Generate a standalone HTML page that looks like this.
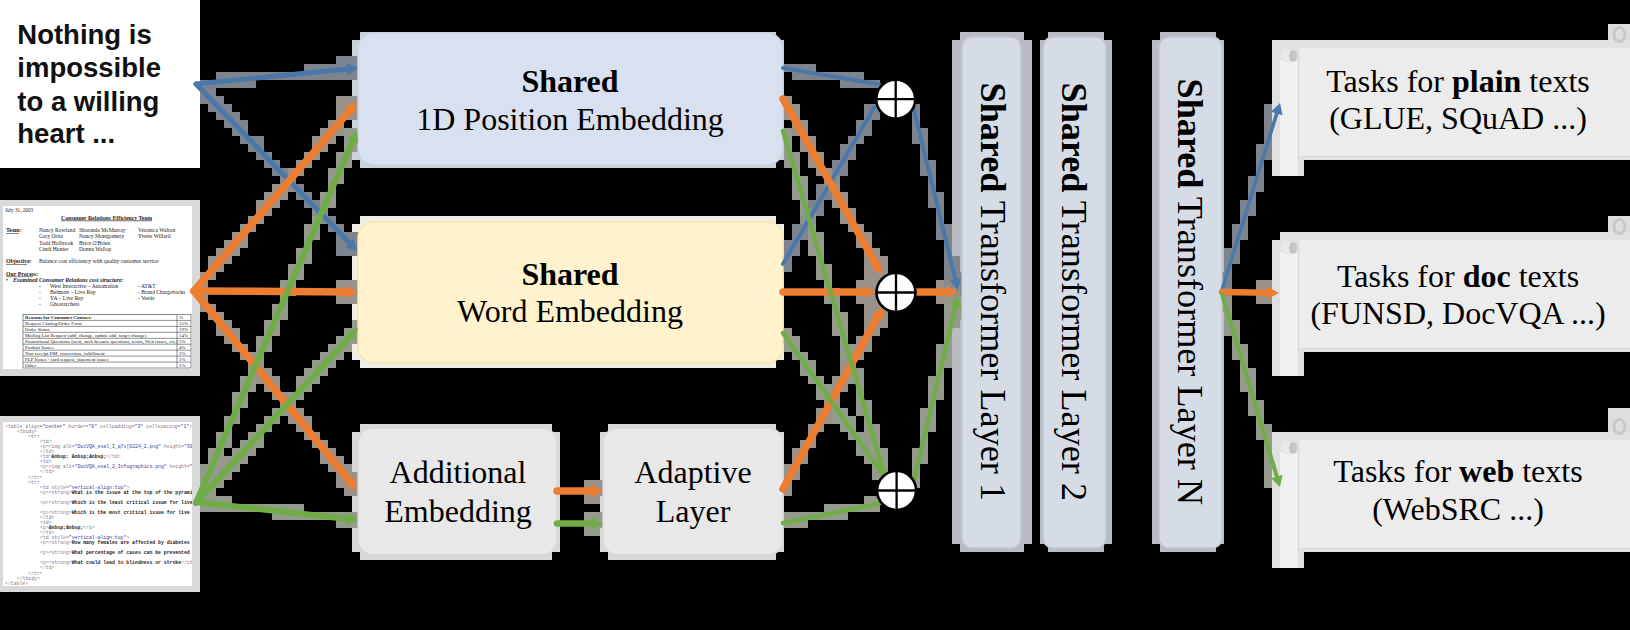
<!DOCTYPE html>
<html><head><meta charset="utf-8"><style>html,body{margin:0;padding:0;background:#000;width:1630px;height:630px;overflow:hidden}svg{display:block}</style></head>
<body><svg width="1630" height="630" viewBox="0 0 1630 630"><rect x="0" y="0" width="200" height="168" fill="#fff"/>
<g font-family="Liberation Sans, sans-serif" font-weight="bold" font-size="27.5" fill="#111">
<text x="17.3" y="44">Nothing is</text><text x="17.3" y="77">impossible</text><text x="17.3" y="111">to a willing</text><text x="17.3" y="143">heart ...</text></g><rect x="0" y="200" width="200" height="176" fill="#d9d9d9"/><rect x="3" y="206" width="189" height="163" fill="#fff"/><g font-family="Liberation Serif, serif" fill="#222"><text x="5" y="212" font-size="5.2" >July 31, 2003</text><text x="61" y="219.5" font-size="6.0" font-weight="bold" textLength="91" lengthAdjust="spacingAndGlyphs">Consumer Relations Efficiency Team</text><rect x="61" y="220.5" width="91" height="0.7" fill="#333"/><text x="6" y="232" font-size="5.8" font-weight="bold">Team:</text><rect x="6" y="233" width="13" height="0.6" fill="#333"/><text x="39" y="232.0" font-size="5.6" >Nancy Rowland</text><text x="79" y="232.0" font-size="5.6" >Sharanda McMurray</text><text x="39" y="238.3" font-size="5.6" >Gary Ortiz</text><text x="79" y="238.3" font-size="5.6" >Nancy Montgomery</text><text x="39" y="244.6" font-size="5.6" >Todd Holbrook</text><text x="79" y="244.6" font-size="5.6" >Brice O&#x27;Brien</text><text x="39" y="250.9" font-size="5.6" >Cindi Hunter</text><text x="79" y="250.9" font-size="5.6" >Donna Wallop</text><text x="138" y="232" font-size="5.6" >Veronica Walton</text><text x="138" y="238.3" font-size="5.6" >Yvette Willard</text><text x="6" y="263" font-size="5.8" font-weight="bold">Objective:</text><rect x="6" y="264" width="21" height="0.6" fill="#333"/><text x="39" y="263" font-size="5.6" >Balance cost efficiency with quality customer service</text><text x="6" y="275.5" font-size="5.8" font-weight="bold">Our Process:</text><rect x="6" y="276.5" width="27" height="0.6" fill="#333"/><text x="6" y="281.5" font-size="5.6" >•</text><text x="13" y="281.5" font-size="5.8" font-weight="bold" font-style="italic">Examined Consumer Relations cost structure:</text><text x="39" y="287.5" font-size="5.6" >-</text><text x="50" y="287.5" font-size="5.6" >West Interactive – Automation</text><text x="138" y="287.5" font-size="5.6" >- AT&amp;T</text><text x="39" y="293.8" font-size="5.6" >-</text><text x="50" y="293.8" font-size="5.6" >Belmont – Live Rep</text><text x="138" y="293.8" font-size="5.6" >- Brand Chargebacks</text><text x="39" y="300.1" font-size="5.6" >-</text><text x="50" y="300.1" font-size="5.6" >YA – Live Rep</text><text x="138" y="300.1" font-size="5.6" >- Vestis</text><text x="39" y="306.4" font-size="5.6" >-</text><text x="50" y="306.4" font-size="5.6" >Ghostarchers</text></g><g stroke="#444" stroke-width="0.6" fill="none"><rect x="23" y="314.5" width="168" height="53.5"/><line x1="177" y1="314.5" x2="177" y2="368"/><line x1="23" y1="320.4" x2="191" y2="320.4"/><line x1="23" y1="326.4" x2="191" y2="326.4"/><line x1="23" y1="332.3" x2="191" y2="332.3"/><line x1="23" y1="338.3" x2="191" y2="338.3"/><line x1="23" y1="344.2" x2="191" y2="344.2"/><line x1="23" y1="350.2" x2="191" y2="350.2"/><line x1="23" y1="356.1" x2="191" y2="356.1"/><line x1="23" y1="362.1" x2="191" y2="362.1"/></g><g font-family="Liberation Serif, serif" fill="#222"><text x="25" y="319.1" font-size="4.9" font-weight="bold">Reasons for Consumer Contact:</text><text x="179" y="319.1" font-size="4.9" >%</text><text x="25" y="325.0444444444445" font-size="4.9" >Request Catalog/Order Form</text><text x="179" y="325.0444444444445" font-size="4.9" >55%</text><text x="25" y="330.98888888888894" font-size="4.9" >Order Status</text><text x="179" y="330.98888888888894" font-size="4.9" >19%</text><text x="25" y="336.93333333333334" font-size="4.9" >Mailing List Request (add, change, update add, target change)</text><text x="179" y="336.93333333333334" font-size="4.9" >14%</text><text x="25" y="342.8777777777778" font-size="4.9" >Promotional Questions (item, such because questions, terms, Web issues, etc.)</text><text x="179" y="342.8777777777778" font-size="4.9" >5%</text><text x="25" y="348.82222222222225" font-size="4.9" >Product Issues</text><text x="179" y="348.82222222222225" font-size="4.9" >4%</text><text x="25" y="354.7666666666667" font-size="4.9" >Non-receipt DM, conversion, fulfillment</text><text x="179" y="354.7666666666667" font-size="4.9" >1%</text><text x="25" y="360.7111111111111" font-size="4.9" >FLP Issues - card request, statement issues</text><text x="179" y="360.7111111111111" font-size="4.9" >1%</text><text x="25" y="366.65555555555557" font-size="4.9" >Other</text><text x="179" y="366.65555555555557" font-size="4.9" >1%</text></g><rect x="0" y="416" width="200" height="176" fill="#d9d9d9"/><rect x="3" y="422" width="189" height="164" fill="#fff"/><svg x="3" y="422" width="189" height="164" overflow="hidden"><g font-family="Liberation Mono, monospace" font-size="4.8"><text x="2" y="6.0" xml:space="preserve"><tspan fill="#8a7a8a">&lt;table align=</tspan><tspan fill="#3a3aa0">&quot;center&quot;</tspan><tspan fill="#8a7a8a"> border=</tspan><tspan fill="#3a3aa0">&quot;0&quot;</tspan><tspan fill="#8a7a8a"> cellpadding=</tspan><tspan fill="#3a3aa0">&quot;3&quot;</tspan><tspan fill="#8a7a8a"> cellspacing=</tspan><tspan fill="#3a3aa0">&quot;1&quot;</tspan><tspan fill="#8a7a8a">&gt;</tspan></text><text x="14" y="11.1" xml:space="preserve"><tspan fill="#8a7a8a">&lt;tbody&gt;</tspan></text><text x="25" y="16.1" xml:space="preserve"><tspan fill="#8a7a8a">&lt;tr&gt;</tspan></text><text x="37" y="21.1" xml:space="preserve"><tspan fill="#8a7a8a">&lt;td&gt;</tspan></text><text x="37" y="26.2" xml:space="preserve"><tspan fill="#8a7a8a">&lt;p&gt;</tspan><tspan fill="#8a7a8a">&lt;img alt=</tspan><tspan fill="#3a3aa0">&quot;DocVQA_eval_I_q7v[0224_2.png&quot;</tspan><tspan fill="#8a7a8a"> height=</tspan><tspan fill="#3a3aa0">&quot;300&quot;</tspan></text><text x="37" y="31.2" xml:space="preserve"><tspan fill="#8a7a8a">&lt;/td&gt;</tspan></text><text x="37" y="36.3" xml:space="preserve"><tspan fill="#8a7a8a">&lt;td&gt;</tspan><tspan fill="#222" font-weight="bold">&amp;nbsp; &amp;nbsp;&amp;nbsp;</tspan><tspan fill="#8a7a8a">&lt;/td&gt;</tspan></text><text x="37" y="41.4" xml:space="preserve"><tspan fill="#8a7a8a">&lt;td&gt;</tspan></text><text x="37" y="46.4" xml:space="preserve"><tspan fill="#8a7a8a">&lt;p&gt;</tspan><tspan fill="#8a7a8a">&lt;img alt=</tspan><tspan fill="#3a3aa0">&quot;DocVQA_eval_2_Infographics.png&quot;</tspan><tspan fill="#8a7a8a"> height=</tspan><tspan fill="#3a3aa0">&quot;300&quot;</tspan></text><text x="37" y="51.4" xml:space="preserve"><tspan fill="#8a7a8a">&lt;/td&gt;</tspan></text><text x="25" y="56.5" xml:space="preserve"><tspan fill="#8a7a8a">&lt;/tr&gt;</tspan></text><text x="25" y="61.6" xml:space="preserve"><tspan fill="#8a7a8a">&lt;tr&gt;</tspan></text><text x="37" y="66.6" xml:space="preserve"><tspan fill="#8a7a8a">&lt;td style=</tspan><tspan fill="#3a3aa0">&quot;vertical-align:top&quot;</tspan><tspan fill="#8a7a8a">&gt;</tspan></text><text x="37" y="71.6" xml:space="preserve"><tspan fill="#8a7a8a">&lt;p&gt;</tspan><tspan fill="#8a7a8a">&lt;strong&gt;</tspan><tspan fill="#222" font-weight="bold">What is the issue at the top of the pyramid</tspan></text><text x="37" y="81.8" xml:space="preserve"><tspan fill="#8a7a8a">&lt;p&gt;</tspan><tspan fill="#8a7a8a">&lt;strong&gt;</tspan><tspan fill="#222" font-weight="bold">Which is the least critical issue for live</tspan></text><text x="37" y="91.9" xml:space="preserve"><tspan fill="#8a7a8a">&lt;p&gt;</tspan><tspan fill="#8a7a8a">&lt;strong&gt;</tspan><tspan fill="#222" font-weight="bold">Which is the most critical issue for live</tspan></text><text x="37" y="96.9" xml:space="preserve"><tspan fill="#8a7a8a">&lt;/td&gt;</tspan></text><text x="37" y="102.0" xml:space="preserve"><tspan fill="#8a7a8a">&lt;td&gt;</tspan></text><text x="37" y="107.0" xml:space="preserve"><tspan fill="#8a7a8a">&lt;p&gt;</tspan><tspan fill="#222" font-weight="bold">&amp;nbsp;&amp;nbsp;</tspan><tspan fill="#8a7a8a">&lt;/p&gt;</tspan></text><text x="37" y="112.0" xml:space="preserve"><tspan fill="#8a7a8a">&lt;/td&gt;</tspan></text><text x="37" y="117.1" xml:space="preserve"><tspan fill="#8a7a8a">&lt;td style=</tspan><tspan fill="#3a3aa0">&quot;vertical-align:top&quot;</tspan><tspan fill="#8a7a8a">&gt;</tspan></text><text x="37" y="122.1" xml:space="preserve"><tspan fill="#8a7a8a">&lt;p&gt;</tspan><tspan fill="#8a7a8a">&lt;strong&gt;</tspan><tspan fill="#222" font-weight="bold">How many females are affected by diabetes</tspan></text><text x="37" y="132.2" xml:space="preserve"><tspan fill="#8a7a8a">&lt;p&gt;</tspan><tspan fill="#8a7a8a">&lt;strong&gt;</tspan><tspan fill="#222" font-weight="bold">What percentage of cases can be prevented</tspan></text><text x="37" y="142.4" xml:space="preserve"><tspan fill="#8a7a8a">&lt;p&gt;</tspan><tspan fill="#8a7a8a">&lt;strong&gt;</tspan><tspan fill="#222" font-weight="bold">What could lead to blindness or stroke</tspan><tspan fill="#8a7a8a">&lt;/strong&gt;</tspan></text><text x="37" y="147.4" xml:space="preserve"><tspan fill="#8a7a8a">&lt;/td&gt;</tspan></text><text x="25" y="152.5" xml:space="preserve"><tspan fill="#8a7a8a">&lt;/tr&gt;</tspan></text><text x="14" y="157.5" xml:space="preserve"><tspan fill="#8a7a8a">&lt;/tbody&gt;</tspan></text><text x="2" y="162.5" xml:space="preserve"><tspan fill="#8a7a8a">&lt;/table&gt;</tspan></text></g></svg><path fill="#cdd0d6" d="M352,40h432v120h-432zM360,32h416v8h-416zM360,160h416v8h-416z"/><path fill="#eeeee4" d="M352,224h432v136h-432zM360,216h416v8h-416zM360,360h416v8h-416z"/><path fill="#d8d8d8" d="M352,432h208v120h-208zM360,424h192v8h-192zM360,552h192v8h-192z"/><path fill="#d8d8d8" d="M600,432h184v120h-184zM608,424h168v8h-168zM608,552h168v8h-168z"/><path fill="#b9bcc1" d="M952,40h80v504h-80zM960,32h64v8h-64zM960,544h64v8h-64z"/><path fill="#b9bcc1" d="M1040,40h72v504h-72zM1048,32h56v8h-56zM1048,544h56v8h-56z"/><path fill="#b9bcc1" d="M1152,40h72v504h-72zM1160,32h56v8h-56zM1160,544h56v8h-56z"/><path fill="#7d848e" d="M200,80h56v8h-56zM840,80h40v8h-40zM216,72h144v8h-144zM792,72h72v8h-72zM304,64h56v8h-56zM776,64h40v8h-40zM336,56h24v8h-24zM336,232h24v24h-24zM200,88h16v8h-16zM200,96h24v8h-24zM1272,96h16v8h-16zM208,104h24v8h-24zM864,104h16v16h-16zM904,104h16v8h-16zM1264,104h24v16h-24zM216,112h24v8h-24zM912,112h8v16h-8zM224,120h24v8h-24zM856,120h16v16h-16zM1264,120h16v16h-16zM232,128h16v8h-16zM912,128h16v16h-16zM240,136h24v8h-24zM848,136h16v8h-16zM1264,136h8v8h-8zM248,144h16v8h-16zM840,144h16v16h-16zM920,144h8v16h-8zM1256,144h16v16h-16zM256,152h16v8h-16zM264,160h16v8h-16zM832,160h16v16h-16zM920,160h16v16h-16zM1256,160h8v16h-8zM272,168h16v8h-16zM296,184h8v8h-8zM816,184h8v8h-8zM816,208h8v8h-8zM928,176h8v16h-8zM1248,176h16v16h-16zM296,192h16v8h-16zM816,192h16v8h-16zM928,192h16v16h-16zM1248,192h8v8h-8zM304,200h16v8h-16zM808,200h16v8h-16zM1240,200h16v16h-16zM328,216h8v8h-8zM936,208h8v16h-8zM1240,216h8v8h-8zM328,224h16v8h-16zM792,224h16v16h-16zM936,224h16v16h-16zM1232,224h16v16h-16zM784,240h16v16h-16zM944,240h8v16h-8zM1232,240h8v8h-8zM1224,248h16v16h-16zM776,256h16v16h-16zM944,256h16v16h-16zM1224,264h8v8h-8zM944,272h24v8h-24zM1216,272h16v16h-16zM960,280h8v16h-8z"/><path fill="#8a8b8c" d="M280,176h16v8h-16zM824,176h16v8h-16zM288,184h8v8h-8zM824,184h8v8h-8zM944,280h16v8h-16z"/><path fill="#888f8d" d="M312,208h16v8h-16zM808,208h8v8h-8zM320,216h8v8h-8zM800,216h16v8h-16zM1216,288h16v8h-16z"/><path fill="#98928a" d="M200,280h8v24h-8zM336,96h24v24h-24zM336,280h24v24h-24zM336,472h24v16h-24zM856,280h24v24h-24zM936,280h8v8h-8zM936,296h8v8h-8zM1256,280h24v24h-24zM200,272h16v8h-16zM200,304h16v8h-16zM864,256h24v24h-24zM864,304h24v24h-24zM208,264h16v8h-16zM208,312h16v8h-16zM208,256h24v8h-24zM216,248h24v8h-24zM216,328h24v8h-24zM864,248h16v8h-16zM864,328h16v8h-16zM224,240h24v8h-24zM856,232h16v16h-16zM856,336h16v16h-16zM232,232h16v8h-16zM232,344h16v8h-16zM240,224h16v8h-16zM240,352h16v8h-16zM848,224h16v8h-16zM248,216h16v8h-16zM840,208h16v16h-16zM256,208h16v8h-16zM256,368h16v8h-16zM256,200h24v8h-24zM256,376h24v8h-24zM832,192h16v16h-16zM832,376h16v16h-16zM264,192h24v8h-24zM272,184h16v8h-16zM272,392h16v8h-16zM832,184h8v8h-8zM832,392h8v8h-8zM288,168h16v8h-16zM288,408h16v8h-16zM816,168h16v8h-16zM816,408h16v16h-16zM296,160h16v8h-16zM296,424h16v8h-16zM808,152h16v16h-16zM808,424h16v8h-16zM304,152h16v8h-16zM304,432h16v8h-16zM312,144h16v8h-16zM312,440h16v8h-16zM800,136h16v16h-16zM800,440h16v8h-16zM312,136h24v8h-24zM320,128h24v8h-24zM320,456h24v8h-24zM792,120h16v16h-16zM792,448h16v16h-16zM328,120h16v8h-16zM784,104h16v16h-16zM784,464h16v16h-16zM776,96h16v8h-16zM776,480h16v16h-16zM936,288h16v8h-16zM216,320h16v8h-16zM224,336h16v8h-16zM856,352h8v8h-8zM840,360h8v16h-8zM264,384h16v8h-16zM288,416h24v8h-24zM808,432h8v8h-8zM320,448h16v8h-16zM328,464h24v8h-24zM584,480h24v16h-24zM344,488h16v8h-16zM584,496h16v8h-16z"/><path fill="#96968b" d="M248,360h16v8h-16zM848,352h8v24h-8zM248,368h8v8h-8zM280,400h16v8h-16zM824,400h16v8h-16zM824,392h8v8h-8zM944,296h16v8h-16z"/><path fill="#949a8c" d="M200,488h16v8h-16zM200,472h32v8h-32zM200,496h32v8h-32zM864,424h16v8h-16zM864,496h16v8h-16zM200,480h24v8h-24zM912,464h8v24h-8zM1264,464h24v24h-24zM872,464h16v16h-16zM200,464h40v8h-40zM208,456h40v8h-40zM864,456h24v8h-24zM912,448h16v16h-16zM1264,448h16v16h-16zM208,448h16v8h-16zM232,448h24v8h-24zM856,448h32v8h-32zM216,432h16v16h-16zM240,440h24v8h-24zM856,440h24v8h-24zM920,432h8v16h-8zM1264,440h8v8h-8zM248,432h16v8h-16zM848,432h32v8h-32zM1256,424h16v16h-16zM224,424h8v8h-8zM256,336h16v16h-16zM256,424h16v8h-16zM840,344h16v8h-16zM840,424h16v8h-16zM920,408h16v24h-16zM224,416h16v8h-16zM264,320h16v16h-16zM264,416h16v8h-16zM832,416h24v8h-24zM864,416h8v8h-8zM1256,416h8v8h-8zM232,408h8v8h-8zM272,304h16v16h-16zM272,408h16v8h-16zM832,312h16v24h-16zM832,408h16v8h-16zM856,400h16v16h-16zM1248,400h16v16h-16zM232,392h16v16h-16zM928,400h8v8h-8zM288,264h16v16h-16zM288,392h16v8h-16zM816,256h8v8h-8zM816,392h8v8h-8zM856,368h8v8h-8zM856,384h8v16h-8zM928,376h16v24h-16zM1248,392h8v8h-8zM240,376h16v16h-16zM296,248h16v16h-16zM296,384h16v8h-16zM816,264h16v16h-16zM816,384h16v8h-16zM1240,368h16v24h-16zM296,376h24v8h-24zM808,232h16v24h-16zM808,376h16v8h-16zM848,376h16v8h-16zM256,352h8v8h-8zM320,352h24v8h-24zM792,176h16v24h-16zM792,352h16v8h-16zM840,336h8v8h-8zM840,352h8v8h-8zM936,344h16v24h-16zM1232,344h16v16h-16zM328,344h24v8h-24zM784,152h16v16h-16zM784,344h16v8h-16zM336,336h24v8h-24zM336,520h24v8h-24zM776,336h24v8h-24zM944,328h8v16h-8zM1232,336h8v8h-8zM344,128h16v24h-16zM344,328h16v8h-16zM776,128h16v16h-16zM776,328h16v8h-16zM1224,320h16v16h-16zM352,320h8v8h-8zM944,320h16v8h-16zM944,304h24v16h-24zM1224,312h8v8h-8zM832,304h8v8h-8zM1216,296h16v16h-16zM280,296h8v8h-8zM824,288h16v16h-16zM960,296h8v8h-8zM280,280h16v16h-16zM824,280h8v8h-8zM304,240h8v8h-8zM304,224h16v16h-16zM808,224h8v8h-8zM312,216h8v8h-8zM320,192h16v16h-16zM800,200h8v16h-8zM328,184h8v8h-8zM328,168h16v16h-16zM792,168h8v8h-8zM336,152h16v16h-16zM784,144h8v8h-8zM304,368h24v8h-24zM800,360h16v16h-16zM936,368h8v8h-8zM312,360h24v8h-24zM1240,360h8v8h-8zM200,504h104v8h-104zM824,504h56v8h-56zM272,512h88v8h-88zM584,512h24v16h-24zM784,512h64v8h-64zM776,520h32v8h-32zM584,528h16v8h-16z"/><path fill="#8d908c" d="M952,288h8v8h-8z"/><rect x="1608" y="24" width="22" height="18" fill="#dedede"/><rect x="1280" y="40" width="350" height="120" fill="#e2e2e2"/><rect x="1272" y="40" width="32" height="136" fill="#e0e0e0"/><rect x="1608" y="216" width="22" height="18" fill="#dedede"/><rect x="1280" y="232" width="350" height="120" fill="#e2e2e2"/><rect x="1272" y="240" width="32" height="136" fill="#e0e0e0"/><rect x="1608" y="408" width="22" height="26" fill="#dedede"/><rect x="1280" y="432" width="350" height="120" fill="#e2e2e2"/><rect x="1272" y="432" width="32" height="136" fill="#e0e0e0"/><rect x="358" y="33" width="425" height="132" rx="16" fill="#d9e1f0" stroke="#c9d3e6" stroke-width="1.5"/><rect x="358" y="222" width="425" height="141" rx="16" fill="#fff2cc" stroke="#f5e6b0" stroke-width="1.5"/><rect x="358" y="428" width="199" height="127" rx="15" fill="#e8e8e8" stroke="#d8d8d8" stroke-width="1.5"/><rect x="603" y="428" width="180" height="127" rx="15" fill="#e8e8e8" stroke="#d8d8d8" stroke-width="1.5"/><rect x="962" y="37" width="59" height="511" rx="10" fill="#d6dce6" stroke="#c0c6d0" stroke-width="1.5"/><rect x="1043" y="37" width="63" height="511" rx="10" fill="#d6dce6" stroke="#c0c6d0" stroke-width="1.5"/><rect x="1159" y="37" width="63" height="511" rx="10" fill="#d6dce6" stroke="#c0c6d0" stroke-width="1.5"/><ellipse cx="1619.5" cy="34.5" rx="5.5" ry="7" fill="none" stroke="#c9c9c9" stroke-width="3"/><rect x="1299" y="48" width="331" height="108" fill="#ececec"/><line x1="1299" y1="156.5" x2="1630" y2="156.5" stroke="#d6d6d6" stroke-width="1.2"/><rect x="1280" y="60" width="18" height="116" fill="#f0f0f0"/><line x1="1298.5" y1="50" x2="1298.5" y2="160" stroke="#d6d6d6" stroke-width="1.2"/><ellipse cx="1288" cy="56" rx="7" ry="7" fill="#e8e8e8"/><ellipse cx="1293" cy="56" rx="4" ry="6" fill="#c4c4c4"/><ellipse cx="1619.5" cy="226.5" rx="5.5" ry="7" fill="none" stroke="#c9c9c9" stroke-width="3"/><rect x="1299" y="240" width="331" height="108" fill="#ececec"/><line x1="1299" y1="348.5" x2="1630" y2="348.5" stroke="#d6d6d6" stroke-width="1.2"/><rect x="1280" y="252" width="18" height="124" fill="#f0f0f0"/><line x1="1298.5" y1="242" x2="1298.5" y2="352" stroke="#d6d6d6" stroke-width="1.2"/><ellipse cx="1288" cy="248" rx="7" ry="7" fill="#e8e8e8"/><ellipse cx="1293" cy="248" rx="4" ry="6" fill="#c4c4c4"/><ellipse cx="1619.5" cy="426.5" rx="5.5" ry="7" fill="none" stroke="#c9c9c9" stroke-width="3"/><rect x="1299" y="440" width="331" height="108" fill="#ececec"/><line x1="1299" y1="548.5" x2="1630" y2="548.5" stroke="#d6d6d6" stroke-width="1.2"/><rect x="1280" y="452" width="18" height="116" fill="#f0f0f0"/><line x1="1298.5" y1="442" x2="1298.5" y2="552" stroke="#d6d6d6" stroke-width="1.2"/><ellipse cx="1288" cy="448" rx="7" ry="7" fill="#e8e8e8"/><ellipse cx="1293" cy="448" rx="4" ry="6" fill="#c4c4c4"/><line x1="196" y1="84" x2="348.0" y2="69.0" stroke="#4a78ab" stroke-width="5" stroke-linecap="round"/><polygon points="358.0,68.0 347.6,75.1 346.5,63.1" fill="#4a78ab"/><line x1="196" y1="84" x2="350.1" y2="243.8" stroke="#4a78ab" stroke-width="5" stroke-linecap="round"/><polygon points="357.0,251.0 345.0,247.2 353.7,238.9" fill="#4a78ab"/><line x1="194" y1="291" x2="350.5" y2="109.6" stroke="#ed7d31" stroke-width="7.5" stroke-linecap="round"/><polygon points="357.0,102.0 354.4,114.2 345.3,106.4" fill="#ed7d31"/><line x1="194" y1="291" x2="348.0" y2="291.9" stroke="#ed7d31" stroke-width="7.5" stroke-linecap="round"/><polygon points="358.0,292.0 347.0,297.9 347.0,285.9" fill="#ed7d31"/><line x1="194" y1="291" x2="350.7" y2="482.3" stroke="#ed7d31" stroke-width="7.5" stroke-linecap="round"/><polygon points="357.0,490.0 345.4,485.3 354.7,477.7" fill="#ed7d31"/><line x1="196" y1="503" x2="353.0" y2="140.2" stroke="#70ad47" stroke-width="6" stroke-linecap="round"/><polygon points="357.0,131.0 358.1,143.5 347.1,138.7" fill="#70ad47"/><line x1="196" y1="503" x2="351.2" y2="335.3" stroke="#70ad47" stroke-width="6" stroke-linecap="round"/><polygon points="358.0,328.0 354.9,340.1 346.1,332.0" fill="#70ad47"/><line x1="196" y1="502" x2="348.1" y2="518.9" stroke="#70ad47" stroke-width="6" stroke-linecap="round"/><polygon points="358.0,520.0 346.4,524.7 347.7,512.8" fill="#70ad47"/><line x1="557" y1="491" x2="593.0" y2="491.0" stroke="#ed7d31" stroke-width="7.5" stroke-linecap="round"/><polygon points="603.0,491.0 592.0,497.0 592.0,485.0" fill="#ed7d31"/><line x1="557" y1="523.5" x2="593.0" y2="523.5" stroke="#70ad47" stroke-width="6.5" stroke-linecap="round"/><polygon points="603.0,523.5 592.0,529.5 592.0,517.5" fill="#70ad47"/><line x1="783" y1="68" x2="879.0" y2="84.2" stroke="#4a78ab" stroke-width="4" stroke-linecap="round"/><line x1="783" y1="264" x2="874.5" y2="107.1" stroke="#4a78ab" stroke-width="4" stroke-linecap="round"/><line x1="783" y1="99" x2="877.1" y2="266.3" stroke="#ed7d31" stroke-width="7.5" stroke-linecap="round"/><polygon points="882.0,275.0 871.4,268.4 881.8,262.5" fill="#ed7d31"/><line x1="783" y1="292" x2="866.0" y2="292.0" stroke="#ed7d31" stroke-width="7.5" stroke-linecap="round"/><polygon points="876.0,292.0 865.0,298.0 865.0,286.0" fill="#ed7d31"/><line x1="783" y1="489" x2="878.2" y2="315.8" stroke="#ed7d31" stroke-width="7.5" stroke-linecap="round"/><polygon points="883.0,307.0 883.0,319.5 872.4,313.8" fill="#ed7d31"/><line x1="783" y1="131" x2="883.3" y2="471.0" stroke="#70ad47" stroke-width="4.5" stroke-linecap="round"/><line x1="783" y1="333" x2="881.6" y2="472.8" stroke="#70ad47" stroke-width="4.5" stroke-linecap="round"/><line x1="783" y1="523" x2="879.0" y2="503.8" stroke="#70ad47" stroke-width="4.5" stroke-linecap="round"/><line x1="913" y1="106" x2="955.6" y2="280.3" stroke="#4a78ab" stroke-width="4" stroke-linecap="round"/><polygon points="958.0,290.0 949.6,280.7 961.2,277.9" fill="#4a78ab"/><line x1="916" y1="292" x2="948.0" y2="292.0" stroke="#ed7d31" stroke-width="7.5" stroke-linecap="round"/><polygon points="958.0,292.0 947.0,298.0 947.0,286.0" fill="#ed7d31"/><line x1="914" y1="480" x2="955.7" y2="305.7" stroke="#70ad47" stroke-width="4.5" stroke-linecap="round"/><polygon points="958.0,296.0 961.3,308.1 949.6,305.3" fill="#70ad47"/><line x1="1222" y1="290" x2="1277.0" y2="112.6" stroke="#4a78ab" stroke-width="3.6" stroke-linecap="round"/><polygon points="1280.0,103.0 1282.5,115.3 1271.0,111.7" fill="#4a78ab"/><line x1="1222" y1="292" x2="1269.0" y2="292.8" stroke="#ed7d31" stroke-width="6.5" stroke-linecap="round"/><polygon points="1279.0,293.0 1267.9,298.8 1268.1,286.8" fill="#ed7d31"/><line x1="1222" y1="294" x2="1277.1" y2="477.4" stroke="#70ad47" stroke-width="4" stroke-linecap="round"/><polygon points="1280.0,487.0 1271.1,478.2 1282.6,474.7" fill="#70ad47"/><circle cx="895.7" cy="99.2" r="19.5" fill="#fff" stroke="#000" stroke-width="2.6"/><line x1="876.4000000000001" y1="99.2" x2="915.0" y2="99.2" stroke="#000" stroke-width="2.3"/><line x1="895.7" y1="79.9" x2="895.7" y2="118.5" stroke="#000" stroke-width="2.3"/><circle cx="896" cy="292.5" r="19.5" fill="#fff" stroke="#000" stroke-width="2.6"/><line x1="876.7" y1="292.5" x2="915.3" y2="292.5" stroke="#000" stroke-width="2.3"/><line x1="896" y1="273.2" x2="896" y2="311.8" stroke="#000" stroke-width="2.3"/><circle cx="896.6" cy="490.5" r="19.5" fill="#fff" stroke="#000" stroke-width="2.6"/><line x1="877.3000000000001" y1="490.5" x2="915.9" y2="490.5" stroke="#000" stroke-width="2.3"/><line x1="896.6" y1="471.2" x2="896.6" y2="509.8" stroke="#000" stroke-width="2.3"/><g fill="#000"><text x="570" y="91.5" font-size="32" text-anchor="middle" font-family="Liberation Serif, serif" font-weight="bold">Shared</text><text x="570" y="130" font-size="32" text-anchor="middle" font-family="Liberation Serif, serif" >1D Position Embedding</text><text x="570" y="285" font-size="32" text-anchor="middle" font-family="Liberation Serif, serif" font-weight="bold">Shared</text><text x="570" y="322" font-size="32" text-anchor="middle" font-family="Liberation Serif, serif" >Word Embedding</text><text x="458" y="483" font-size="32" text-anchor="middle" font-family="Liberation Serif, serif" >Additional</text><text x="458" y="521.5" font-size="32" text-anchor="middle" font-family="Liberation Serif, serif" >Embedding</text><text x="693" y="483" font-size="32" text-anchor="middle" font-family="Liberation Serif, serif" >Adaptive</text><text x="693" y="521.5" font-size="32" text-anchor="middle" font-family="Liberation Serif, serif" >Layer</text><text transform="translate(981,82.5) rotate(90)" font-size="36.2" font-family="Liberation Serif, serif"><tspan font-weight="bold">Shared</tspan> Transformer Layer 1</text><text transform="translate(1062,82.5) rotate(90)" font-size="36.2" font-family="Liberation Serif, serif"><tspan font-weight="bold">Shared</tspan> Transformer Layer 2</text><text transform="translate(1178,78.5) rotate(90)" font-size="36.2" font-family="Liberation Serif, serif"><tspan font-weight="bold">Shared</tspan> Transformer Layer N</text><text x="1458" y="92" font-size="32" text-anchor="middle" font-family="Liberation Serif, serif" >Tasks for <tspan font-weight="bold">plain</tspan> texts</text><text x="1458" y="129" font-size="32" text-anchor="middle" font-family="Liberation Serif, serif" >(GLUE, SQuAD ...)</text><text x="1458" y="286.5" font-size="32" text-anchor="middle" font-family="Liberation Serif, serif" >Tasks for <tspan font-weight="bold">doc</tspan> texts</text><text x="1458" y="323.5" font-size="32" text-anchor="middle" font-family="Liberation Serif, serif" >(FUNSD, DocVQA ...)</text><text x="1458" y="482" font-size="32" text-anchor="middle" font-family="Liberation Serif, serif" >Tasks for <tspan font-weight="bold">web</tspan> texts</text><text x="1458" y="520" font-size="32" text-anchor="middle" font-family="Liberation Serif, serif" >(WebSRC ...)</text></g></svg></body></html>
